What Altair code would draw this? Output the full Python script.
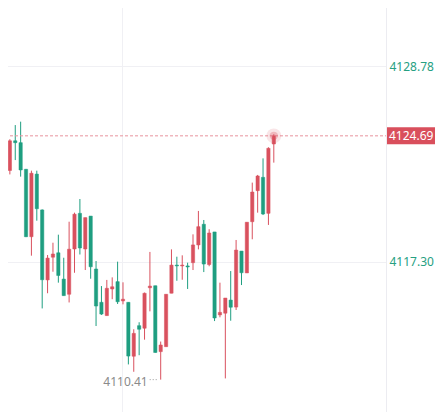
import altair as alt
import pandas as pd

# ---- data ----
idx = list(range(51))
opens = [4123.27, 4122.66, 4124.40, 4124.29, 4122.73, 4118.78, 4122.45, 4120.35, 4116.25, 4117.58,
         4117.84, 4116.30, 4115.41, 4118.06, 4120.15, 4118.06, 4119.99, 4116.89, 4114.94, 4114.16,
         4115.72, 4116.15, 4115.02, 4114.94, 4111.78, 4113.57, 4113.42, 4115.79, 4115.91, 4112.05,
         4112.34, 4115.47, 4117.12, 4117.07, 4117.07, 4117.26, 4118.30, 4119.51, 4117.15, 4119.06,
         4114.20, 4114.30, 4115.07, 4114.66, 4117.94, 4116.66, 4119.66, 4121.48, 4122.26, 4120.15,
         4124.21]
highs = [4123.39, 4124.49, 4125.32, 4125.52, 4122.75, 4122.65, 4122.65, 4120.38, 4117.71, 4118.43,
         4118.90, 4117.55, 4119.66, 4120.19, 4120.99, 4119.90, 4119.99, 4117.36, 4115.89, 4116.25,
         4116.40, 4117.32, 4116.11, 4114.94, 4113.36, 4113.77, 4115.51, 4117.89, 4115.91, 4112.64,
         4115.42, 4118.04, 4117.61, 4117.69, 4117.26, 4118.92, 4120.29, 4119.76, 4119.22, 4119.06,
         4116.09, 4115.19, 4116.77, 4118.59, 4117.94, 4119.63, 4121.95, 4122.40, 4123.37, 4124.02,
         4124.78]
lows = [4122.20, 4122.43, 4123.27, 4122.30, 4118.76, 4117.67, 4119.72, 4114.58, 4115.47, 4116.73,
        4116.09, 4115.33, 4114.93, 4116.67, 4117.74, 4116.83, 4116.32, 4113.55, 4114.20, 4114.16,
        4115.12, 4114.84, 4114.82, 4111.30, 4110.87, 4111.84, 4112.75, 4114.41, 4111.99, 4110.41,
        4112.34, 4115.47, 4116.20, 4116.26, 4115.72, 4116.83, 4118.04, 4116.71, 4117.05, 4113.84,
        4114.06, 4110.48, 4113.86, 4114.49, 4115.95, 4116.66, 4118.63, 4120.19, 4120.05, 4119.47,
        4123.12]
closes = [4122.30, 4124.40, 4124.29, 4122.69, 4118.78, 4122.50, 4120.42, 4116.26, 4117.53, 4117.77,
          4116.51, 4115.33, 4118.05, 4120.10, 4118.12, 4119.90, 4117.02, 4114.72, 4114.25, 4115.76,
          4115.85, 4114.97, 4115.12, 4111.79, 4113.12, 4113.36, 4115.47, 4115.89, 4112.00, 4112.44,
          4115.41, 4117.12, 4117.07, 4117.12, 4117.01, 4118.30, 4119.37, 4117.18, 4119.00, 4114.02,
          4114.35, 4115.19, 4114.65, 4118.00, 4116.67, 4119.63, 4121.40, 4122.34, 4120.11, 4123.96,
          4124.69]

y_ticks = [4128.78, 4117.30]
x_grid = [21.8]
last_price = 4124.69
last_idx = 50
low_price = 4110.41
low_idx = 29

RED = "#d9515e"
GREEN = "#1f9e80"
TEAL_TXT = "#26a082"
GRID = "#f0f0f4"

df = pd.DataFrame({"i": idx, "open": opens, "high": highs, "low": lows, "close": closes})
df["dir"] = ["up" if c >= o else "down" for o, c in zip(opens, closes)]

xs = alt.Scale(domain=[0.096, 69.9], nice=False, zero=False)
ys = alt.Scale(domain=[4108.514, 4132.646], nice=False, zero=False)
xaxis = alt.Axis(values=x_grid, grid=True, labels=False, ticks=False, domain=False,
                 gridColor=GRID, title=None)
yaxis = alt.Axis(orient="right", values=y_ticks, format=".2f", grid=True, gridColor=GRID,
                 domain=False, ticks=False, labelPadding=3, labelColor=TEAL_TXT,
                 labelFontSize=12, labelFont="Noto Sans", title=None)


def X(f):
    return alt.X(f, scale=xs, axis=xaxis, title=None)


def Y(f):
    return alt.Y(f, scale=ys, axis=yaxis, title=None)


col = alt.Color("dir:N", scale=alt.Scale(domain=["up", "down"], range=[RED, GREEN]), legend=None)

base = alt.Chart(df)
wicks = base.mark_rule(strokeWidth=1).encode(x=X("i:Q"), y=Y("low:Q"), y2="high:Q", color=col)
bodies = base.mark_bar(size=3.3, strokeWidth=0.5).encode(
    x=X("i:Q"), y=Y("open:Q"), y2="close:Q", color=col, stroke=col)

pdf = pd.DataFrame({"i": [last_idx], "p": [last_price], "label": [f"{last_price:.2f}"]})
price_line = alt.Chart(pdf).mark_rule(strokeDash=[3, 2], color="#e8939d", strokeWidth=1).encode(
    y=Y("p:Q"), x=alt.value(0), x2=alt.value(386))
glow1 = alt.Chart(pdf).mark_circle(color=RED, opacity=0.15, size=220).encode(x=X("i:Q"), y=Y("p:Q"))
glow2 = alt.Chart(pdf).mark_circle(color=RED, opacity=0.3, size=70).encode(x=X("i:Q"), y=Y("p:Q"))
tag = alt.Chart(pdf).mark_rect(color="#d94f5c", yOffset=-8.5, y2Offset=8.5).encode(
    y=Y("p:Q"), y2="p:Q", x=alt.value(387), x2=alt.value(441))
tag_text = alt.Chart(pdf).mark_text(color="white", align="left", baseline="middle",
                                    fontSize=12, font="Noto Sans").encode(
    y=Y("p:Q"), x=alt.value(389), text="label:N")

ldf = pd.DataFrame({"i": [low_idx], "p": [low_price], "label": [f"{low_price:.2f}"]})
low_text = alt.Chart(ldf).mark_text(color="#8a8a8a", align="right", baseline="middle",
                                    dx=-13, dy=2, fontSize=12, font="Noto Sans").encode(
    x=X("i:Q"), y=Y("p:Q"), text="label:N")
low_dots = alt.Chart(ldf).mark_rule(strokeDash=[1, 2], color="#9a9a9a", strokeWidth=1,
                                    xOffset=-11, x2Offset=-2).encode(
    x=X("i:Q"), x2="i:Q", y=Y("p:Q"))

sep = alt.Chart(pdf).mark_rule(color="#ececf1", strokeWidth=1).encode(
    x=alt.value(386.5), y=alt.value(0), y2=alt.value(412))

chart = alt.layer(
    wicks, bodies, price_line, sep, glow1, glow2, tag, tag_text, low_dots, low_text
).properties(
    width=386, height=412,
    autosize=alt.AutoSizeParams(type="none"),
    padding={"left": -8, "top": -8, "right": 49, "bottom": 0},
    background="white",
).configure_view(stroke=None)

chart.save("out.html", embed_options={"renderer": "svg", "actions": False})
